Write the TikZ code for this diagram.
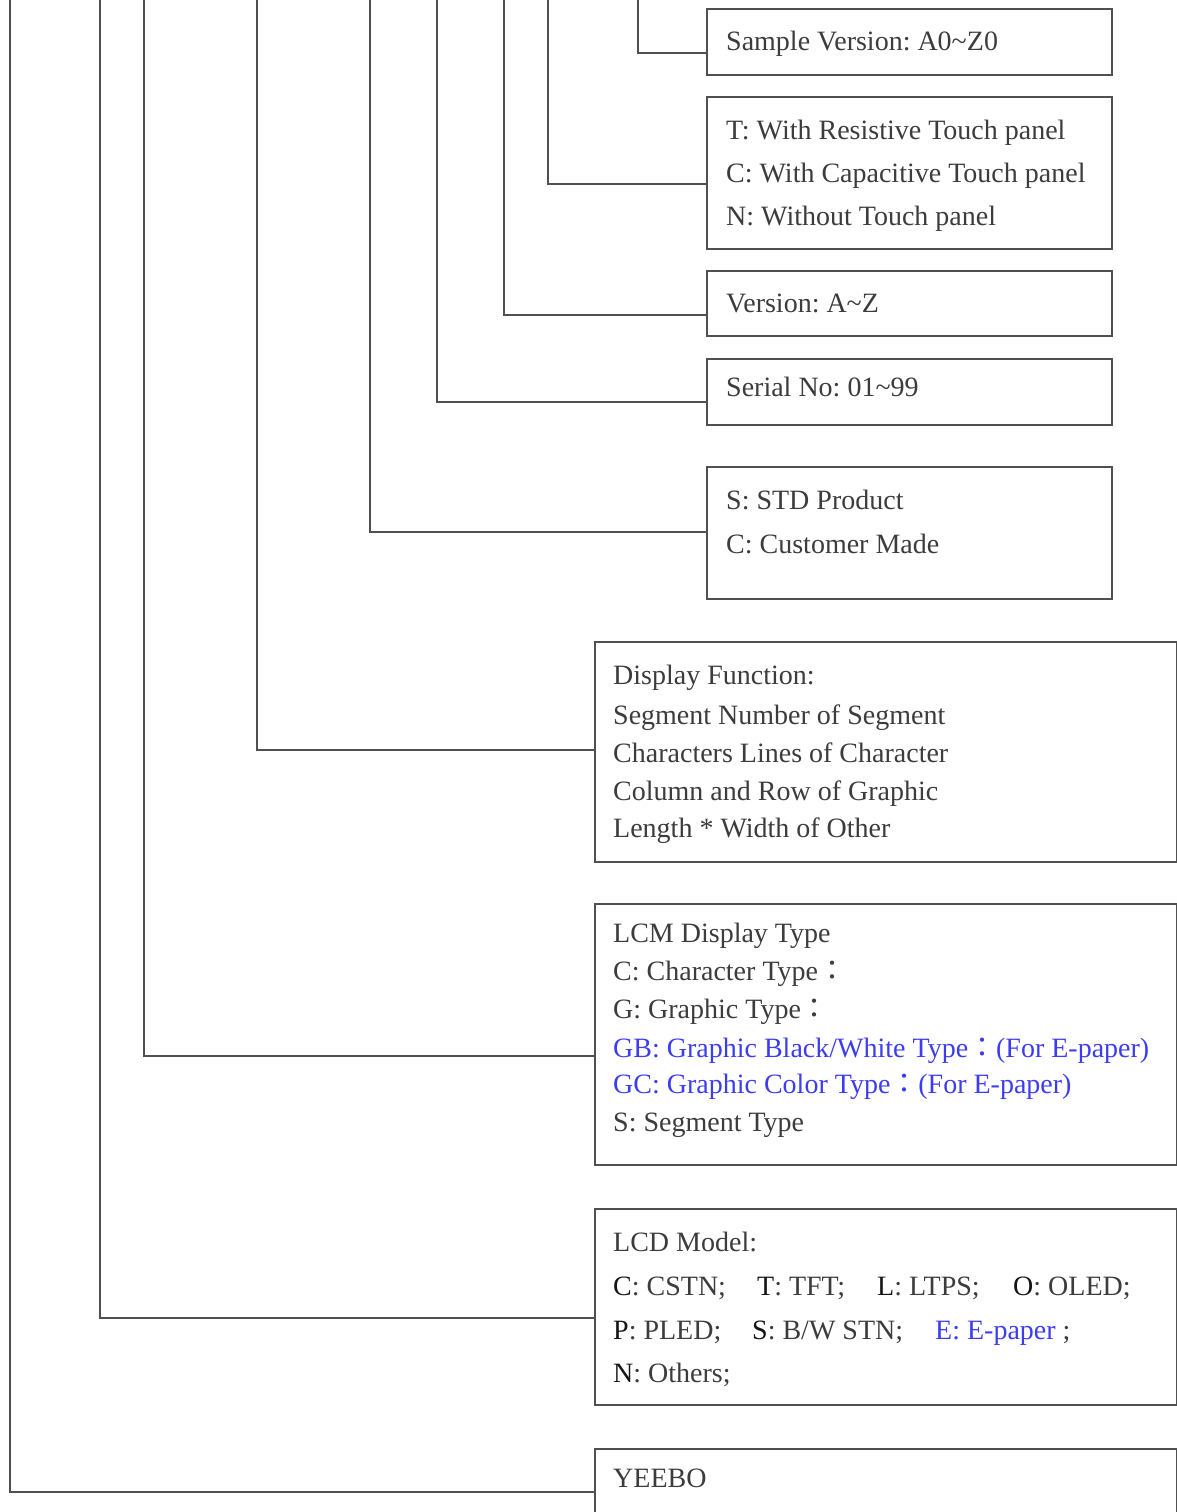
\documentclass[tikz,border=0pt]{standalone}
\usepackage{fontspec}
\setmainfont{Liberation Serif}
\newfontfamily\cjk{Noto Sans CJK TC}
\definecolor{txt}{HTML}{3C3C3C}
\definecolor{keyc}{HTML}{151515}
\definecolor{bl}{HTML}{3C3CF0}
\definecolor{ln}{HTML}{505050}
\newcommand{\fc}{{\cjk ：}}
\newcommand{\kk}[1]{\textcolor{keyc}{#1}}
\frenchspacing
\begin{document}
\begin{tikzpicture}[x=1pt,y=1pt,
  box/.style={draw=ln, line width=2pt, rectangle, inner sep=0pt, anchor=north west},
  conn/.style={draw=ln, line width=1.6pt},
  tx/.style={anchor=base west, inner sep=0pt, text=txt, font=\fontsize{28}{34}\selectfont\frenchspacing},
  btx/.style={tx, text=bl},
]
\useasboundingbox (0,0) rectangle (1177,-1512);
\clip (0,0) rectangle (1177,-1512);

% boxes
\node[box, minimum width=405pt, minimum height=66pt]  (sv)  at (706,-8)    {};
\node[box, minimum width=405pt, minimum height=152pt] (tp)  at (706,-96)   {};
\node[box, minimum width=405pt, minimum height=65pt]  (ver) at (706,-270)  {};
\node[box, minimum width=405pt, minimum height=66pt]  (ser) at (706,-358)  {};
\node[box, minimum width=405pt, minimum height=132pt] (sc)  at (706,-466)  {};
\node[box, minimum width=581.5pt, minimum height=220pt] (df)  at (594,-641)  {};
\node[box, minimum width=581.5pt, minimum height=261pt] (lcm) at (594,-903)  {};
\node[box, minimum width=581.5pt, minimum height=196pt] (lcd) at (594,-1208) {};
\node[box, minimum width=581.5pt, minimum height=120pt] (yb)  at (594,-1448) {};

% connectors
\coordinate (t1) at (638,10);
\coordinate (t2) at (548,10);
\coordinate (t3) at (504,10);
\coordinate (t4) at (437,10);
\coordinate (t5) at (370,10);
\coordinate (t6) at (257,10);
\coordinate (t7) at (144,10);
\coordinate (t8) at (100,10);
\coordinate (t9) at (10,10);
\draw[conn] (t1) |- ([yshift=-11pt]sv.west);
\draw[conn] (t2) |- ([yshift=-11pt]tp.west);
\draw[conn] (t3) |- ([yshift=-11.5pt]ver.west);
\draw[conn] (t4) |- ([yshift=-10pt]ser.west);
\draw[conn] (t5) |- ([yshift=1pt]sc.west);
\draw[conn] (t6) |- ([yshift=2pt]df.west);
\draw[conn] (t7) |- ([yshift=-21.5pt]lcm.west);
\draw[conn] (t8) |- ([yshift=-11pt]lcd.west);
\draw[conn] (t9) |- ([yshift=-44pt]yb.north west);

% texts
\node[tx] (s1) at (726,-51) {Sample Version: A0\char`~Z0};

\node[tx] (p1) at (726,-139) {T: With Resistive Touch panel};
\node[tx] (p2) at (726,-182) {C: With Capacitive Touch panel};
\node[tx] (p3) at (726,-225) {N: Without Touch panel};

\node[tx] (v1) at (726,-312) {Version: A\char`~Z};
\node[tx] (n1) at (726,-396) {Serial No: 01\char`~99};

\node[tx] (c1) at (726,-509) {S: STD Product};
\node[tx] (c2) at (726,-553) {C: Customer Made};

\node[tx] (d1) at (613,-684) {Display Function:};
\node[tx] (d2) at (613,-724) {Segment Number of Segment};
\node[tx] (d3) at (613,-762) {Characters Lines of Character};
\node[tx] (d4) at (613,-800) {Column and Row of Graphic};
\node[tx] (d5) at (613,-837) {Length * Width of Other};

\node[tx]  (m1) at (613,-942)  {LCM Display Type};
\node[tx]  (m2) at (613,-980)  {C: Character Type\fc};
\node[tx]  (m3) at (613,-1018) {G: Graphic Type\fc};
\node[btx] (m4) at (613,-1057) {GB: Graphic Black/White Type\fc(For E-paper)};
\node[btx] (m5) at (613,-1093) {GC: Graphic Color Type\fc(For E-paper)};
\node[tx]  (m6) at (613,-1131) {S: Segment Type};

\node[tx] (l1) at (613,-1251) {LCD Model:};
\node[tx] (l2) at (613,-1295) {\kk{C}: CSTN;};
\node[tx] (l3) at (757,-1295) {\kk{T}: TFT;};
\node[tx] (l4) at (877,-1295) {\kk{L}: LTPS;};
\node[tx] (l5) at (1013,-1295) {\kk{O}: OLED;};
\node[tx] (l6) at (613,-1339) {\kk{P}: PLED;};
\node[tx] (l7) at (752,-1339) {\kk{S}: B/W STN;};
\node[tx] (l8) at (935,-1339) {\textcolor{bl}{E: E-paper} ;};
\node[tx] (l9) at (613,-1382) {\kk{N}: Others;};

\node[tx] (y1) at (613,-1487) {YEEBO};
\end{tikzpicture}
\end{document}
